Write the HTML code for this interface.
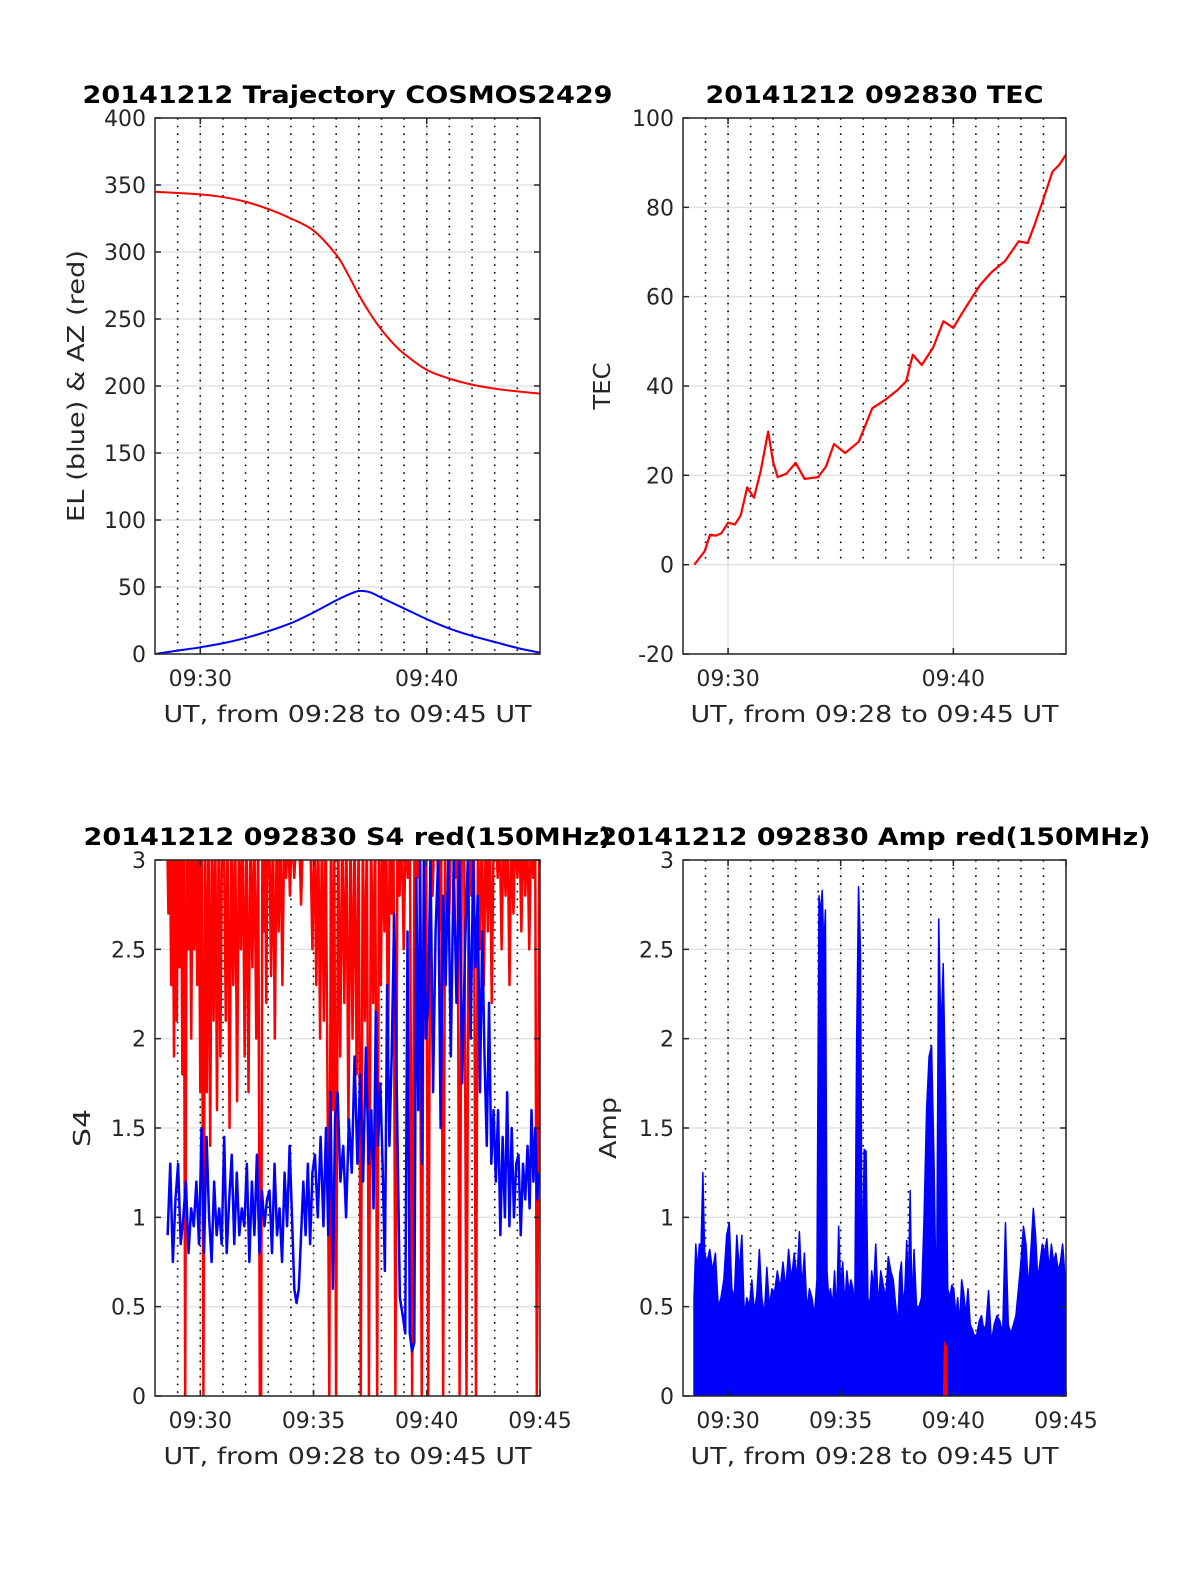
<!DOCTYPE html>
<html><head><meta charset="utf-8"><style>
html,body{margin:0;padding:0;background:#fff;}
svg{display:block;font-family:"DejaVu Sans","Liberation Sans",sans-serif;}
</style></head><body>
<svg id="fig" width="1200" height="1575" viewBox="0 0 1200 1575" xmlns="http://www.w3.org/2000/svg">
<rect width="1200" height="1575" fill="#fff"/>
</svg>
<script>
// ---------- data ----------
const minuteDots=[29,30,31,32,33,34,35,36,37,38,39,40,41,42,43,44];
const topXTicks=[30,40];
const botXTicks=[30,35,40,45];
const trajYTicks=[0,50,100,150,200,250,300,350,400];
const tecYTicks=[-20,0,20,40,60,80,100];
const s4YTicks=[0,0.5,1,1.5,2,2.5,3];
const s4YTickLabels=['0','0.5','1','1.5','2','2.5','3'];

const azT=[28,30,31,32,33,34,35,36,36.5,37,37.5,38,38.5,39,40,41,42,43,44,45];
const azV=[345,343,341,337.5,332,325,316,298,284,268,254,242,232,224,212,205.5,201,198,196,194.3];
const elT=[28,29,30,31,32,33,34,35,36,36.5,37,37.5,38,39,40,41,42,43,44,45];
const elV=[0,2.5,5,8,12,17,23,31,40,44,47,46,42,34,26,19,13.5,9,4.5,1];

const tecT=[28.5,28.96,29.2,29.45,29.7,30,30.3,30.56,30.85,31.15,31.45,31.78,32.0,32.2,32.6,33,33.4,34,34.35,34.7,35.2,35.8,36.4,37,37.5,37.9,38.2,38.6,39.1,39.56,40,40.35,40.7,41.2,41.7,42.3,42.9,43.3,43.6,43.9,44.4,44.7,45];
const tecV=[0,3,6.7,6.5,7,9.4,9,11,17.3,15,21,29.8,23,19.6,20.4,22.8,19.2,19.6,22,27,25,27.5,35,37,39,41,47,44.7,48.6,54.5,53,56,58.8,62.7,65.5,68,72.4,72,76,80.4,88,89.5,91.8];

const s4RedSegs=[
[28.5,29.3,[3.2,2.7,3.2,2.3,3.2,1.9,3.2,2.1,3.2,2.4,3.2,1.8,3.2]],
[29.3,30.1,[0,3.2,2.5,3.2,2.0,3.2,2.5,3.2,2.3,3.2,1.7,3.2]],
[30.1,31,[0,3.2,1.7,3.2,1.4,3.2,2.1,3.2,1.6,3.2,1.9,3.2]],
[31,32,[3.2,2.1,3.2,1.5,3.2,2.3,3.2,1.65,3.2,2.5,3.2,1.9]],
[32,32.6,[3.2,1.7,3.2,2.4,3.2,2.0,3.2]],
[32.6,33,[0,0,3.2,2.6,3.2,2.2,3.2]],
[33,34,[3.2,2.35,3.2,2.0,3.2,2.6,3.2,2.3,3.2,2.9,3.2,2.8]],
[34,35,[3.2,2.9,3.2,3.2,2.75,3.2,3.2,3.2,3.2,2.5]],
[35,35.66,[3.2,2.3,3.2,2.0,3.2,2.1,3.2,1.7]],
[35.66,35.95,[0,3.2,1.6,3.2]],
[35.95,37.04,[0,3.2,1.9,3.2,2.2,3.2,1.5,3.2,2.0,3.2,1.8,3.2]],
[37.04,37.4,[0,3.2,2.1,3.2]],
[37.4,37.77,[0,3.2,2.2,3.2]],
[37.77,38.57,[0,3.2,2.3,3.2,2.6,3.2,1.9,3.2,2.7,3.2]],
[38.57,39.3,[0,3.2,2.8,3.2,2.5,3.2,2.9,3.2]],
[39.3,39.73,[0,3.2,2.9,3.2]],
[39.73,40.02,[0,3.2,3.2]],
[40.02,40.68,[0,3.2,2.8,3.2,3.2,2.6,3.2]],
[40.68,41.4,[0,3.2,3.2,2.7,3.2,3.2,2.9,3.2]],
[41.4,41.7,[0,3.2,3.2]],
[41.7,42.13,[0,3.2,2.8,3.2]],
[42.13,43,[0,3.2,2.5,3.2,2.3,3.2,2.6,3.2,2.2,3.2]],
[43,44.83,[3.2,2.9,3.2,2.5,3.2,2.8,3.2,2.3,3.2,2.7,3.2,2.9,3.2,2.6,3.2,2.8,3.2,2.5,3.2,2.9,3.2]],
[44.83,45,[0,1.1,3.2]]
];
const s4BlueSegs=[
[28.5,30,[0.9,1.3,0.75,1.1,1.3,0.85,1.0,1.2,0.8,1.05,0.95,1.2,0.85]],
[30,31,[1.5,0.8,1.45,1.0,0.75,1.2,0.9,1.05,0.85]],
[31,32,[1.45,0.8,1.1,1.35,0.85,1.25,0.9,1.05,0.95]],
[32,33,[1.3,0.75,1.2,0.9,1.35,0.8,1.15,0.95,1.1]],
[33,34,[1.15,0.8,1.3,0.9,1.05,0.75,1.25,0.95,1.4]],
[34,34.5,[1.0,0.6,0.52,0.6,0.9]],
[34.5,35,[1.2,0.9,1.3,0.85,1.25]],
[35,35.5,[1.35,1.0,1.45,0.95]],
[35.5,36,[1.5,0.9,1.7,0.6,1.55]],
[36,37,[1.7,1.2,1.4,1.0,1.55,1.25,1.9,1.3]],
[37,37.5,[1.8,1.2,1.95,1.3]],
[37.5,38,[1.6,1.05,2.15,1.4,1.75]],
[38,38.5,[1.3,0.7,2.3,1.4,1.9]],
[38.5,39,[2.7,1.6,0.55,0.45]],
[39,39.5,[0.35,2.6,0.35,0.25,0.3]],
[39.5,40,[2.9,1.6,3.0,1.3,3.0,2.0]],
[40,41,[2.2,3.0,1.7,2.6,3.0,1.5,2.8,2.3,3.0]],
[41,42,[1.9,3.0,2.2,3.0,1.75,2.5,3.0,2.0]],
[42,42.5,[3.0,2.4,2.8,1.7,2.6]],
[42.5,43,[1.9,1.4,2.2,1.3,1.6]],
[43,43.5,[1.2,1.6,0.9,1.45,1.0]],
[43.5,44,[1.7,0.95,1.5,1.0,1.3]],
[44,44.5,[1.35,0.9,1.3,1.1,1.4]],
[44.5,45,[1.05,1.6,1.2,1.5,1.1,1.25]]
];
const ampBlueSegs=[
[28.45,29,[0.55,0.85,0.7,0.85,0.85,1.25,0.8]],
[29,30,[0.75,0.82,0.7,0.8,0.5,0.55,0.65,0.9]],
[30,31,[0.97,0.6,0.55,0.9,0.7,0.9,0.45,0.55,0.5]],
[31,32,[0.65,0.47,0.57,0.82,0.55,0.45,0.72,0.5,0.6]],
[32,33,[0.58,0.7,0.6,0.75,0.6,0.82,0.65,0.8]],
[33,34,[0.65,0.92,0.6,0.8,0.48,0.6,0.55,0.45,0.65]],
[34,34.5,[2.8,2.7,2.83,2.5,2.72,0.7,0.55]],
[34.5,35.5,[0.6,0.5,0.7,0.45,0.95,0.6,0.75,0.5,0.7,0.58,0.65]],
[35.5,36,[0.6,0.5,2.0,2.85,2.5,0.55]],
[36,36.5,[1.38,1.37,0.55,0.5,0.7,0.6]],
[36.5,37.5,[0.85,0.5,0.7,0.62,0.55,0.78,0.7,0.65,0.5]],
[37.5,38.2,[0.4,0.68,0.75,0.5,0.6,0.87,0.6,1.15,0.5]],
[38.2,39.2,[0.82,0.5,0.5,0.55,1.0,1.6,1.9,1.96,1.3]],
[39.2,39.8,[0.4,2.67,2.0,2.42,1.7,0.6]],
[39.8,40.5,[0.55,0.62,0.6,0.45,0.55,0.4,0.65,0.58]],
[40.5,41.5,[0.45,0.6,0.4,0.37,0.33,0.35,0.42,0.45,0.37,0.4]],
[41.5,42.5,[0.59,0.3,0.4,0.45,0.42,0.35,0.97,0.4]],
[42.5,43.5,[0.35,0.4,0.45,0.6,0.75,0.95,0.85,0.6,0.82]],
[43.5,44,[1.05,0.9,0.65,0.75,0.85]],
[44,45,[0.8,0.88,0.7,0.85,0.75,0.8,0.7,0.75,0.85,0.68]]
];
const ampRedSegs=[[39.55,39.75,[0,0.3,0.1,0.28,0]]];

// ---------- helpers ----------
const NS='http://www.w3.org/2000/svg';
const svg=document.getElementById('fig');
function el(tag,parent){const e=document.createElementNS(NS,tag);(parent||svg).appendChild(e);return e;}
function expand(segs){const t=[],v=[];segs.forEach(s=>{const n=s[2].length;s[2].forEach((val,k)=>{t.push(s[0]+(k+0.5)*(s[1]-s[0])/n);v.push(val);});});return {t:t,v:v};}
function mkAxes(x0,x1,y0,y1,ymin,ymax){return {x0:x0,x1:x1,y0:y0,y1:y1,X:t=>x0+(t-28)*(x1-x0)/17,Y:v=>y1-(v-ymin)*(y1-y0)/(ymax-ymin)};}

const A1=mkAxes(155,540,118,654,0,400);
const A2=mkAxes(683,1066,118,654,-20,100);
const A3=mkAxes(155,540,860,1396,0,3);
const A4=mkAxes(683,1066,860,1396,0,3);

let clipId=0;
function frameBack(A,yticks,xticks,dotFromVal,dotToVal){
  const g=el('g');
  
  
  yticks.forEach(v=>{const l=el('line',g);l.setAttribute('x1',A.x0);l.setAttribute('x2',A.x1);l.setAttribute('y1',A.Y(v));l.setAttribute('y2',A.Y(v));l.setAttribute('stroke','#e3e3e3');l.setAttribute('stroke-width','1.5');
    
    });
  xticks.forEach(t=>{const l=el('line',g);l.setAttribute('x1',A.X(t));l.setAttribute('x2',A.X(t));l.setAttribute('y1',A.y0);l.setAttribute('y2',A.y1);l.setAttribute('stroke','#e3e3e3');l.setAttribute('stroke-width','1.5');
    
    });
  minuteDots.forEach(t=>{const l=el('line',g);l.setAttribute('x1',A.X(t));l.setAttribute('x2',A.X(t));l.setAttribute('y1',A.Y(dotToVal));l.setAttribute('y2',A.Y(dotFromVal));l.setAttribute('stroke','#000');l.setAttribute('stroke-width','1.6');l.setAttribute('stroke-dasharray','1.6 6.1');
    
    });
  const cp=el('clipPath');const id='clip'+(clipId++);cp.setAttribute('id',id);
  const r=el('rect',cp);r.setAttribute('x',A.x0);r.setAttribute('y',A.y0);r.setAttribute('width',A.x1-A.x0);r.setAttribute('height',A.y1-A.y0);
  return id;
}
function frameFront(A,yticks,ylabels,xticks,title,titleLen,ylabel,ylabLen,ylabX){
  const b=el('rect');b.setAttribute('x',A.x0);b.setAttribute('y',A.y0);b.setAttribute('width',A.x1-A.x0);b.setAttribute('height',A.y1-A.y0);b.setAttribute('fill','none');b.setAttribute('stroke','#262626');b.setAttribute('stroke-width','1.5');
  
  
  yticks.forEach((v,i)=>{
    [[A.x0,A.x0+6],[A.x1,A.x1-6]].forEach(p=>{const l=el('line');l.setAttribute('x1',p[0]);l.setAttribute('x2',p[1]);l.setAttribute('y1',A.Y(v));l.setAttribute('y2',A.Y(v));l.setAttribute('stroke','#262626');l.setAttribute('stroke-width','1.5');
      
      });
    const t=el('text');t.setAttribute('x',A.x0-9);t.setAttribute('y',A.Y(v)+8);t.setAttribute('text-anchor','end');t.setAttribute('font-size','22');t.setAttribute('fill','#262626');t.textContent=ylabels[i];
    
    
  });
  xticks.forEach(tt=>{
    [[A.y1,A.y1-6],[A.y0,A.y0+6]].forEach(p=>{const l=el('line');l.setAttribute('x1',A.X(tt));l.setAttribute('x2',A.X(tt));l.setAttribute('y1',p[0]);l.setAttribute('y2',p[1]);l.setAttribute('stroke','#262626');l.setAttribute('stroke-width','1.5');
      
      });
    const t=el('text');t.setAttribute('x',A.X(tt));t.setAttribute('y',A.y1+32);t.setAttribute('text-anchor','middle');t.setAttribute('font-size','22');t.setAttribute('fill','#262626');t.textContent='09:'+tt;
    
    
  });
  const xl=el('text');xl.setAttribute('x',(A.x0+A.x1)/2);xl.setAttribute('y',A.y1+68);xl.setAttribute('text-anchor','middle');xl.setAttribute('font-size','23');xl.setAttribute('fill','#262626');xl.setAttribute('textLength','368');xl.setAttribute('lengthAdjust','spacingAndGlyphs');xl.textContent='UT, from 09:28 to 09:45 UT';
  
  
  const ti=el('text');ti.setAttribute('x',(A.x0+A.x1)/2+title[1]);ti.setAttribute('y',A.y0-15);ti.setAttribute('text-anchor','middle');ti.setAttribute('font-size','24');ti.setAttribute('font-weight','bold');ti.setAttribute('fill','#000');ti.setAttribute('textLength',titleLen);ti.setAttribute('lengthAdjust','spacingAndGlyphs');ti.textContent=title[0];
  
  
  const cy=(A.y0+A.y1)/2;
  const yl=el('text');yl.setAttribute('transform','translate('+ylabX+','+cy+') rotate(-90)');yl.setAttribute('text-anchor','middle');yl.setAttribute('font-size','23');yl.setAttribute('fill','#262626');yl.setAttribute('textLength',ylabLen);yl.setAttribute('lengthAdjust','spacingAndGlyphs');yl.textContent=ylabel;
  
  
}
function linePath(A,t,v,clip,color,w,name){
  let d='';t.forEach((tt,i)=>{d+=(i?'L':'M')+A.X(tt).toFixed(2)+','+A.Y(v[i]).toFixed(2);});
  const p=el('path');p.setAttribute('d',d);p.setAttribute('fill','none');p.setAttribute('stroke',color);p.setAttribute('stroke-width',w);p.setAttribute('stroke-linejoin','round');
  if(clip)p.setAttribute('clip-path','url(#'+clip+')');
  
  
  return p;
}
function smoothPath(A,t,v,clip,color,w,name){
  const P=t.map((tt,i)=>[A.X(tt),A.Y(v[i])]);
  let d='M'+P[0][0].toFixed(2)+','+P[0][1].toFixed(2);
  for(let i=0;i<P.length-1;i++){
    const p0=P[Math.max(0,i-1)],p1=P[i],p2=P[i+1],p3=P[Math.min(P.length-1,i+2)];
    const c1=[p1[0]+(p2[0]-p0[0])/6,p1[1]+(p2[1]-p0[1])/6];
    const c2=[p2[0]-(p3[0]-p1[0])/6,p2[1]-(p3[1]-p1[1])/6];
    d+='C'+c1[0].toFixed(2)+','+c1[1].toFixed(2)+' '+c2[0].toFixed(2)+','+c2[1].toFixed(2)+' '+p2[0].toFixed(2)+','+p2[1].toFixed(2);
  }
  const p=el('path');p.setAttribute('d',d);p.setAttribute('fill','none');p.setAttribute('stroke',color);p.setAttribute('stroke-width',w);
  if(clip)p.setAttribute('clip-path','url(#'+clip+')');
  
  
}
function areaPath(A,t,v,clip,color,name){
  let d='M'+A.X(t[0]).toFixed(2)+','+A.Y(0);
  t.forEach((tt,i)=>{d+='L'+A.X(tt).toFixed(2)+','+A.Y(v[i]).toFixed(2);});
  d+='L'+A.X(t[t.length-1]).toFixed(2)+','+A.Y(0)+'Z';
  const p=el('path');p.setAttribute('d',d);p.setAttribute('fill',color);p.setAttribute('stroke',color);p.setAttribute('stroke-width','1.5');p.setAttribute('stroke-linejoin','round');
  if(clip)p.setAttribute('clip-path','url(#'+clip+')');
  
  
}

// ---------- panel 1: trajectory ----------
let c=frameBack(A1,trajYTicks,topXTicks,0,400);
smoothPath(A1,azT,azV,c,'#ff0000',2,'azimuth-line');
smoothPath(A1,elT,elV,c,'#0000ff',2,'elevation-line');
frameFront(A1,trajYTicks,trajYTicks.map(String),topXTicks,['20141212 Trajectory COSMOS2429',0],530,'EL (blue) & AZ (red)',272,84);

// ---------- panel 2: TEC ----------
c=frameBack(A2,tecYTicks,topXTicks,0,100);
linePath(A2,tecT,tecV,c,'#ff0000',2.2,'tec-line');
frameFront(A2,tecYTicks,tecYTicks.map(String),topXTicks,['20141212 092830 TEC',0],338,'TEC',47,610);

// ---------- panel 3: S4 ----------
c=frameBack(A3,s4YTicks,botXTicks,0,3);
const sr=expand(s4RedSegs);
linePath(A3,sr.t,sr.v,c,'#ff0000',2.5,'s4-red-line');
const sb=expand(s4BlueSegs);
linePath(A3,sb.t,sb.v,c,'#0000ff',2.5,'s4-blue-line');
frameFront(A3,s4YTicks,s4YTickLabels,botXTicks,['20141212 092830 S4 red(150MHz)',0],528,'S4',38,90);

// ---------- panel 4: Amp ----------
c=frameBack(A4,s4YTicks,botXTicks,0,3);
const ab=expand(ampBlueSegs);
areaPath(A4,ab.t,ab.v,c,'#0000ff','amp-blue-area');
const ar=expand(ampRedSegs);
areaPath(A4,ar.t,ar.v,c,'#ff0000','amp-red-area');
frameFront(A4,s4YTicks,s4YTickLabels,botXTicks,['20141212 092830 Amp red(150MHz)',0],552,'Amp',62,616);
</script>
</body></html>
